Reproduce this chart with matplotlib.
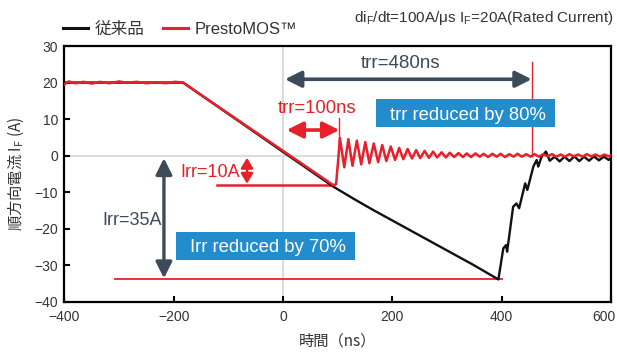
import matplotlib
matplotlib.use('Agg')
import matplotlib.pyplot as plt
from matplotlib.patches import Rectangle
from matplotlib.transforms import ScaledTranslation

plt.rcParams['font.family'] = ['Liberation Sans', 'Noto Sans CJK JP']

# conventional device (black)
t_black = [-400, -300, -183, -100, 0, 92, 130, 165, 226, 287, 348, 394,
           403, 408, 410, 421, 427, 432, 443, 447, 458, 464, 467, 473, 481,
           488, 497, 506, 515, 524, 533, 542, 551, 560, 569, 578, 587, 596, 600]
i_black = [20, 20, 20, 11.4, 1.0, -8.5, -11.9, -14.9, -19.9, -24.9, -29.9, -33.9,
           -25.4, -24.5, -26.3, -14.0, -13.1, -14.4, -7.6, -9.4, -3.0, -1.2, -3.0, -0.3, 1.1,
           -1.4, -0.3, -1.6, -0.3, -1.5, -0.2, -1.5, -0.3, -1.4, -0.2, -1.3, -0.3, -1.2, -0.6]

# PrestoMOS (red)
t_red = [-400, -392, -380, -365, -350, -335, -318, -300, -285, -268, -250, -232,
         -215, -198, -183, -150, -100, -50, 0, 50, 92, 97, 101,
         104, 112, 119.5, 127, 135, 143, 150.5, 158, 166, 174, 181.5, 189,
         197, 205, 212.5, 220, 228, 236, 243.5, 251, 259, 267, 274.5, 282,
         290, 298, 305, 313, 321, 329, 336, 344, 352, 360, 367, 375, 383, 391,
         398, 406, 414, 422, 429, 437, 445, 453, 460, 468, 476, 484, 492, 500,
         508, 516, 524, 532, 540, 548, 556, 564, 572, 580, 588, 596, 600]
i_red = [19.5, 20.3, 19.8, 20.2, 19.7, 20.2, 19.8, 20.3, 19.9, 20.2, 19.8, 20.1,
         19.8, 20.2, 20.0, 16.6, 11.5, 6.4, 1.3, -3.8, -8.1, -7.8, -1.0,
         4.8, -3.2, 4.5, -2.8, 4.1, -2.4, 3.7, -2.1, 3.3, -1.8, 2.9, -1.5,
         2.5, -1.2, 2.1, -1.0, 1.8, -0.8, 1.5, -0.7, 1.3, -0.6, 1.1, -0.5,
         0.9, -0.5, 0.8, -0.4, 0.7, -0.4, 0.6, -0.4, 0.6, -0.3, 0.5, -0.4, 0.5, -0.3,
         0.5, -0.4, 0.4, -0.3, 0.5, -0.3, 0.4, -0.3, 0.4, -0.3, 0.4, -0.2, 0.4, -0.3,
         0.3, -0.3, 0.4, -0.2, 0.3, -0.3, 0.4, -0.2, 0.3, -0.3, 0.3, -0.2, 0.1]

# annotation values
trr_old = (3.5, 455)
trr_new = (6.5, 103)
irr_old = -33.9
irr_new = -8.1

RED = '#e8202a'
SLATE = '#3c4a5a'
BLUE = '#238ccd'
GREY = '#333333'

fig = plt.figure(figsize=(6.17, 3.54), dpi=100)
ax = fig.add_axes([0.1045, 0.1477, 0.8857, 0.7223])

ax.axhline(0, color='#dcdcdc', lw=1.5, zorder=0)
ax.axvline(0, color='#dcdcdc', lw=1.5, zorder=0)

ax.plot(t_black, i_black, color='#111111', lw=1.7, zorder=3, label='従来品')
ax.plot(t_red, i_red, color=RED, lw=1.8, zorder=4, label='PrestoMOS™')

# reference lines
ax.plot([-307, 400], [irr_old, irr_old], color=RED, lw=1.3, zorder=2)
ax.plot([-121, 92], [irr_new, irr_new], color=RED, lw=1.8, zorder=2)
ax.plot([trr_new[1], trr_new[1]], [3, 10.2], color=RED, lw=1.0, zorder=2)
ax.plot([trr_old[1], trr_old[1]], [0, 25.6], color=RED, lw=1.0, zorder=2)

# trr arrows
ax.annotate('', xy=(trr_old[1], 20.9), xytext=(trr_old[0], 20.9),
            arrowprops=dict(arrowstyle='<|-|>,head_length=0.7,head_width=0.35',
                            color=SLATE, lw=2.6, mutation_scale=14, shrinkA=0, shrinkB=0))
ax.text(215, 25.3, 'trr=480ns', color=SLATE, fontsize=13.5, ha='center', va='center')

ax.annotate('', xy=(trr_new[1], 7.0), xytext=(trr_new[0], 7.0),
            arrowprops=dict(arrowstyle='<|-|>,head_length=0.7,head_width=0.35',
                            color=RED, lw=2.6, mutation_scale=14, shrinkA=0, shrinkB=0))
ax.text(62.6, 12.9, 'trr=100ns', color=RED, fontsize=13.3, ha='center', va='center')

# Irr arrows
ax.annotate('', xy=(-218, -0.7), xytext=(-218, irr_old + 0.3),
            arrowprops=dict(arrowstyle='<|-|>,head_length=0.7,head_width=0.35',
                            color=SLATE, lw=2.4, mutation_scale=14, shrinkA=0, shrinkB=0))
ax.text(-221, -17.7, 'Irr=35A', color=SLATE, fontsize=13, ha='right', va='center')

ax.annotate('', xy=(-66, -0.6), xytext=(-66, irr_new + 0.4),
            arrowprops=dict(arrowstyle='<|-|>,head_length=0.5,head_width=0.3',
                            color=RED, lw=1.8, mutation_scale=12, shrinkA=0, shrinkB=0))
ax.text(-79, -4.5, 'Irr=10A', color=RED, fontsize=13, ha='right', va='center')

# blue callouts
ax.add_patch(Rectangle((170, 7.8), 327.5, 7.7, color=BLUE, zorder=5, lw=0))
ax.text(339, 11.1, 'trr reduced by 80%', color='white', fontsize=13.3,
        ha='center', va='center', zorder=6)
ax.add_patch(Rectangle((-196, -28.6), 327.5, 7.7, color=BLUE, zorder=5, lw=0))
ax.text(-27, -25.1, 'Irr reduced by 70%', color='white', fontsize=13.3,
        ha='center', va='center', zorder=6)

ax.set_xlim(-400, 600)
ax.set_ylim(-40, 30)
ax.set_xticks(range(-400, 601, 200))
ax.set_yticks(range(-40, 31, 10))
ax.tick_params(direction='in', length=4, width=1.5, colors='black',
               labelcolor=GREY, labelsize=10)
ax.tick_params(axis='x', pad=6)
ax.tick_params(axis='y', pad=4.5)
for s in ax.spines.values():
    s.set_linewidth(1.6)

# keep the last x label inside the figure
fig.canvas.draw()
last = ax.get_xticklabels()[-1]
last.set_transform(last.get_transform() + ScaledTranslation(-7 / 100, 0, fig.dpi_scale_trans))

ax.set_xlabel('時間（ns）', family=['Noto Sans CJK JP'], fontsize=11, color=GREY, labelpad=6)
ax.set_ylabel('順方向電流 I$_\\mathregular{F}$ (A)', family=['Noto Sans CJK JP'],
              fontsize=11, color=GREY, labelpad=6)

ax.legend(loc='center left', bbox_to_anchor=(63 / 617, 1 - 29.5 / 354),
          bbox_transform=fig.transFigure, ncol=2, frameon=False, fontsize=12,
          borderpad=0, borderaxespad=0, handlelength=1.5, handletextpad=0.4,
          columnspacing=1.1, labelcolor=GREY)
for ln in ax.get_legend().get_lines():
    ln.set_linewidth(2.2)

fig.text(614 / 617, 1 - 18 / 354,
         'di$_\\mathregular{F}$/dt=100A/μs I$_\\mathregular{F}$=20A(Rated Current)',
         fontsize=11, color=GREY, ha='right', va='center')

fig.savefig('out.png', dpi=100, facecolor='white')
